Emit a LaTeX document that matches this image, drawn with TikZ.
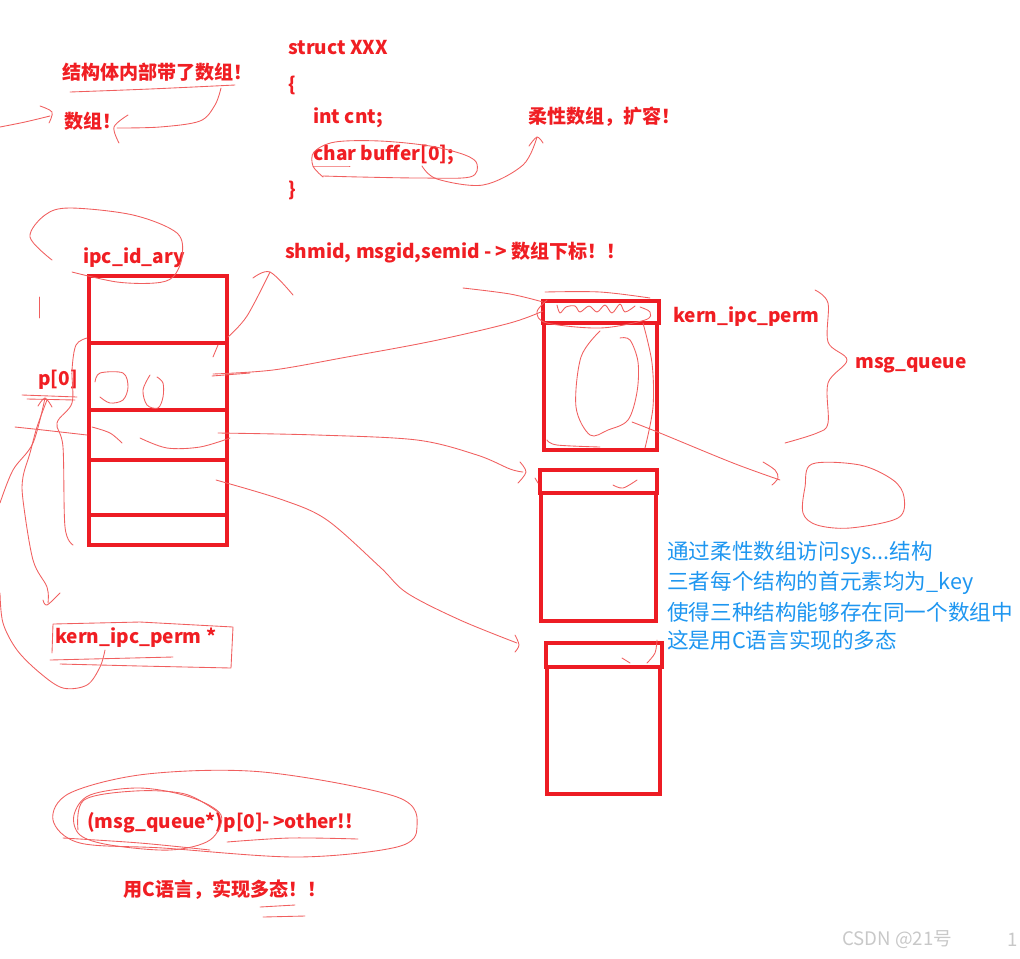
\documentclass[tikz,border=0pt]{standalone}
\usepackage{fontspec}
\setmainfont{Noto Sans CJK SC}
\definecolor{boxred}{RGB}{237,28,36}
\definecolor{txtred}{RGB}{240,30,35}
\definecolor{skred}{RGB}{240,95,95}
\definecolor{noteblue}{RGB}{30,150,240}
\definecolor{wmgray}{RGB}{200,200,200}
\newcommand\sketchline[1]{\draw[sk] plot[smooth,tension=0.55] coordinates {#1};}
\newcommand\sketchloop[1]{\draw[sk] plot[smooth cycle,tension=0.55] coordinates {#1};}
\begin{document}
\begin{tikzpicture}[x=0.75pt,y=-0.75pt,
  boxline/.style={draw=boxred,line width=3pt},
  sk/.style={draw=skred,line width=0.65pt,line cap=round,line join=round},
  lbl/.style={text=txtred,font=\bfseries\fontsize{14.3}{16}\selectfont,inner sep=0pt,anchor=west},
  note/.style={text=noteblue,font=\fontsize{16.2}{18}\selectfont,inner sep=0pt,anchor=west},
  wm/.style={text=wmgray,font=\fontsize{14}{16}\selectfont,inner sep=0pt,anchor=west}]
\useasboundingbox (0,0) rectangle (1020,958);

% ---------- texts ----------
\node[lbl] (t1) at (62,72) {结构体内部带了数组！};
\node[lbl] (t2) at (64,121) {数组！};
\node[lbl] (s1) at (288,48) {struct XXX};
\node[lbl] (s2) at (288,85) {\{};
\node[lbl] (s3) at (313,118) {int cnt;};
\node[lbl] (s4) at (313,155) {char buffer[0];};
\node[lbl] (s5) at (288,190) {\}};
\node[lbl] (flex) at (528,117) {柔性数组，扩容！};
\node[lbl] (ipc) at (83,258) {ipc\_id\_ary};
\node[lbl] (ids) at (285,253) {shmid, msgid,semid -\,> 数组下标！！};
\node[lbl] (kip) at (673,317) {kern\_ipc\_perm};
\node[lbl] (mq) at (855,365) {msg\_queue};
\node[lbl] (p0) at (38,380) {p[0]};
\node[lbl] (kptr) at (55,638) {kern\_ipc\_perm *};
\node[lbl] (cast) at (87,823) {(msg\_queue*)p[0]-\,>other!!};
\node[lbl] (poly) at (123,890) {用C语言，实现多态！！};
\node[note] (n1) at (667,553) {通过柔性数组访问sys...结构};
\node[note] (n2) at (667,583) {三者每个结构的首元素均为\_key};
\node[note] (n3) at (667,612) {使得三种结构能够存在同一个数组中};
\node[note] (n4) at (667,640) {这是用C语言实现的多态};
\node[wm] (w1) at (842,940) {CSDN @21号};
\node[wm] (w2) at (1007,940) {1};

% ---------- array ipc_id_ary ----------
\draw[boxline] (89,276) rectangle (227,545);
\foreach \yy in {343,410,460,515} \draw[boxline] (89,\yy) -- (227,\yy);

% ---------- structure boxes ----------
\draw[boxline] (543,301) rectangle (659,323);
\draw[boxline] (544,323) rectangle (657,450);
\draw[boxline] (540,470) rectangle (657,493);
\draw[boxline] (541,493) rectangle (656,621);
\draw[boxline] (546,643) rectangle (662,667);
\draw[boxline] (547,667) rectangle (660,794);

% ---------- hand-drawn strokes ----------
% arrow from the left edge to 数组
\sketchline{(0,127) (25,122) (50,116)}
\sketchline{(40,106) (52,112) (49,123)}
% underline and arrow
\sketchline{(70,92) (150,89) (235,85)}
\sketchline{(221,88) (215,105) (200,121) (160,127) (117,128)}
\sketchline{(128,115) (114,127) (119,143)}
% ellipse around char buffer[0]
\sketchline{(323,177) (313,166) (314,152) (335,142) (380,141) (430,146) (465,155) (477,164) (470,177) (420,178) (360,177) (323,176)}
\sketchline{(313,166) (350,166)}
\sketchline{(422,166) (437,179) (483,185) (523,165) (537,137)}
\sketchline{(529,146) (537,137) (543,143)}
% loop around ipc_id_ary
\sketchline{(52,260) (30,237) (45,215) (70,208) (133,215) (177,233) (182,257) (173,277) (155,283) (117,282) (72,272)}
\draw[sk] (39,297) -- (39,318);
% arrow up to shmid
\sketchline{(228,337) (247,316) (270,272)}
\sketchline{(253,278) (270,272) (293,295)}
% lines to first box
\sketchline{(213,374) (273,370) (347,357) (433,341) (510,323) (543,311)}
\sketchline{(212,376) (250,373)}
\sketchline{(463,288) (510,294) (543,302)}
\sketchline{(213,357) (218,345)}
% line to second box
\sketchline{(218,433) (317,435) (417,440) (477,455) (510,469) (523,472)}
\sketchline{(520,462) (526,472) (518,483)}
\sketchline{(535,478) (538,483)}
% line to third box
\sketchline{(216,480) (283,500) (327,520) (380,567) (407,593) (460,620) (517,643)}
\sketchline{(515,635) (519,645) (515,652)}
% p[0] underline and arrows
\sketchline{(22,395) (50,396) (77,397)}
\sketchline{(27,399) (75,400)}
\sketchline{(38,406) (45,398) (52,407)}
\sketchline{(45,398) (33,443) (13,470) (0,503)}
\sketchline{(47,400) (37,427) (30,453) (23,477) (23,500) (33,560) (47,587) (48,603)}
\sketchline{(43,600) (47,605) (60,593)}
\sketchline{(87,338) (76,345) (72,370) (72,403) (57,423) (63,447) (65,527) (73,545)}
\sketchline{(15,427) (43,430) (87,435)}
\sketchline{(0,593) (3,623) (17,650) (40,673) (63,688) (87,685) (100,667) (105,650)}
% frame around kern_ipc_perm *
\draw[sk] (52,653) -- (53,624) -- (140,622) -- (233,627) -- (231,668) -- (140,666) -- (60,664);
\sketchline{(50,660) (173,657)}
% scribbles inside the array
\sketchline{(95,382) (100,373) (123,373) (128,387) (123,400) (110,403) (100,397)}
\sketchline{(150,375) (143,390) (147,405) (158,408) (163,397) (163,383) (157,377)}
\sketchline{(92,427) (110,433) (122,443)}
\sketchline{(140,438) (167,448) (200,447) (230,438)}
% scribbles on first box
\sketchline{(545,292) (600,292) (650,298)}
\sketchline{(547,300) (537,312) (547,323) (600,328) (645,320) (650,312) (640,307)}
\sketchline{(557,305) (560,313) (566,307) (575,306) (580,312) (589,306) (597,312) (605,305) (612,313) (620,304) (625,312) (635,306)}
\sketchline{(620,338) (630,340) (638,362) (637,392) (628,420) (608,430) (590,435) (576,407) (581,357) (600,331)}
\sketchline{(643,323) (652,363) (653,407) (645,448)}
\sketchline{(547,440) (557,445) (600,447)}
% arrow to the blob
\sketchline{(632,422) (660,433) (733,463) (780,480)}
\sketchline{(763,462) (775,470) (778,478) (772,485)}
% brace of msg_queue
\sketchline{(815,290) (828,303) (828,342) (847,360) (828,383) (828,423) (817,433) (785,443)}
% blob
\sketchloop{(812,464) (860,465) (893,480) (904,497) (898,518) (850,528) (817,525) (803,513) (805,487)}
% checks in the headers
\sketchline{(613,485) (623,488) (637,480)}
\sketchline{(622,658) (630,663)}
\sketchline{(647,663) (655,653) (657,640)}
% ellipses at the bottom
\sketchloop{(53,820) (70,793) (147,774) (263,772) (397,797) (417,827) (397,847) (297,857) (163,848) (80,843)}
\sketchloop{(74,815) (90,795) (140,788) (190,797) (221,815) (210,840) (170,850) (110,845) (80,835)}
\sketchline{(78,830) (84,800) (135,791) (185,794) (218,812)}
\sketchline{(63,838) (140,843) (210,850)}
\sketchline{(227,842) (290,838) (358,839)}
\sketchline{(260,907) (295,905)}
\sketchline{(263,917) (305,916)}
\end{tikzpicture}
\end{document}
